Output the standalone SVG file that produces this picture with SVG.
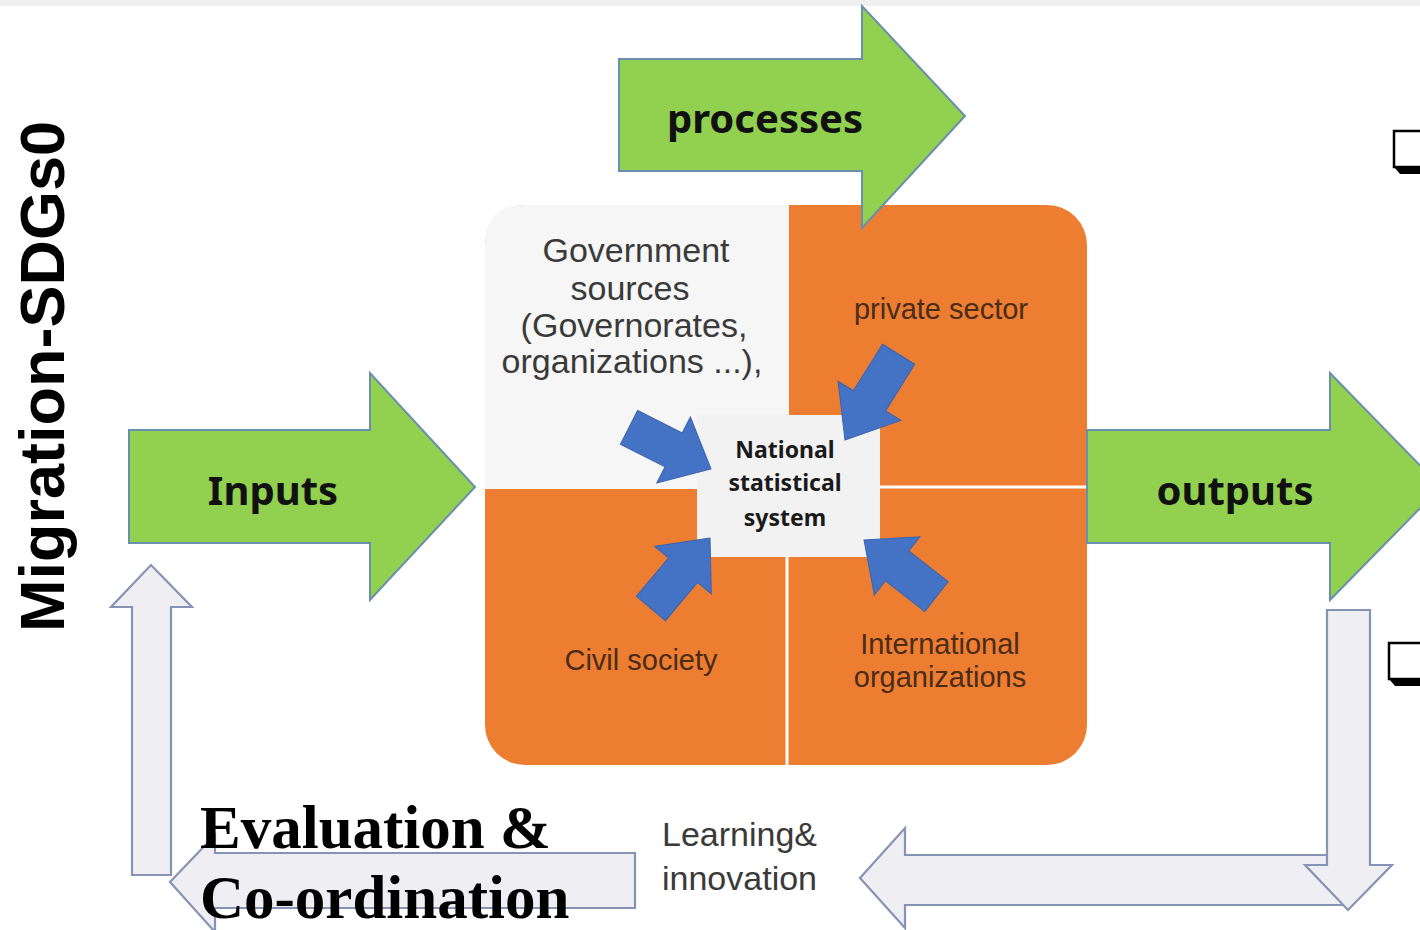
<svg xmlns="http://www.w3.org/2000/svg" width="1420" height="930" viewBox="0 0 1420 930">
<defs>
<style>
.green{fill:#92d050;stroke:#6a8fae;stroke-width:2;stroke-linejoin:miter}
.gray{fill:#efeff3;stroke:#8693b5;stroke-width:2.2;stroke-linejoin:miter}
.blue{fill:#4472c4;stroke:#3b64ad;stroke-width:1}
.lbl{font-family:"Noto Sans","Open Sans",sans-serif;font-weight:bold;font-size:40px;fill:#111;text-anchor:middle}
.quad{font-family:"Liberation Sans",Arial,sans-serif;fill:#3a3a3a;text-anchor:middle}
.oq{font-family:"Liberation Sans",Arial,sans-serif;fill:#4a2c18;text-anchor:middle;font-size:29px}
.nss{font-family:"Noto Sans","Open Sans",sans-serif;font-weight:bold;font-size:23px;fill:#1a1a1a;text-anchor:middle}
.serif{font-family:"Liberation Serif","Times New Roman",serif;font-weight:bold;font-size:61px;fill:#000}
</style>
<polygon id="bluearrow" points="0,0 -42,-37 -42,-19 -92,-19 -92,19 -42,19 -42,37"/>
</defs>
<rect x="0" y="0" width="1420" height="930" fill="#ffffff"/>
<rect x="0" y="0" width="1420" height="6" fill="#f0f0f0"/>

<g id="stakeholders">
<rect x="485" y="205" width="602" height="560" rx="40" ry="40" fill="#ed7d31"/>
<path d="M485 489 L485 245 Q485 205 525 205 L789 205 L789 489 Z" fill="#f6f6f6"/>
<line x1="787" y1="555" x2="787" y2="765" stroke="#ffffff" stroke-width="3"/>
<line x1="879" y1="487" x2="1087" y2="487" stroke="#ffffff" stroke-width="3"/>
<text class="quad" font-size="34"><tspan x="636" y="262">Government</tspan><tspan x="630" y="300">sources</tspan><tspan x="634" y="337">(Governorates,</tspan><tspan x="632" y="373">organizations ...),</tspan></text>
<text class="oq" x="941" y="319">private sector</text>
<text class="oq" x="641" y="670">Civil society</text>
<text class="oq"><tspan x="940" y="654">International</tspan><tspan x="940" y="687">organizations</tspan></text>
</g>

<g id="nss">
<rect x="697" y="415" width="183" height="142" fill="#f2f2f2"/>
<text class="nss"><tspan x="785" y="458">National</tspan><tspan x="785" y="491">statistical</tspan><tspan x="785" y="526">system</tspan></text>
</g>

<g id="connectors">
<use href="#bluearrow" class="blue" transform="translate(711,469) rotate(27)"/>
<use href="#bluearrow" class="blue" transform="translate(845,440) rotate(122) scale(1.1,1)"/>
<use href="#bluearrow" class="blue" transform="translate(710,538) rotate(-50)"/>
<use href="#bluearrow" class="blue" transform="translate(864,540) rotate(-142)"/>
</g>

<g id="processes">
<polygon class="green" points="619,59 862,59 862,6 965,116 862,228 862,171 619,171"/>
<text class="lbl" x="765" y="133">processes</text>
</g>

<g id="inputs">
<polygon class="green" points="129,430 370,430 370,373 475,487 370,600 370,543 129,543"/>
<text class="lbl" x="273" y="505">Inputs</text>
</g>

<g id="outputs">
<polygon class="green" points="1087,430 1330,430 1330,373 1441,487 1330,600 1330,543 1087,543"/>
<text class="lbl" x="1235" y="505">outputs</text>
</g>

<g id="feedback">
<polygon class="gray" points="1350,855 905,855 905,828 860,878 905,928 905,905 1350,905"/>
<polygon class="gray" points="1327,610 1370,610 1370,865 1392,865 1348,910 1305,865 1327,865"/>
<polygon class="gray" points="635,853 635,908 215,908 215,932 170,882 215,835 215,853"/>
<polygon class="gray" points="132,875 132,607 111,607 151,565 192,607 171,607 171,875"/>
</g>

<g id="learning">
<text class="quad" font-size="34" style="text-anchor:start"><tspan x="662" y="846">Learning&amp;</tspan><tspan x="662" y="890">innovation</tspan></text>
</g>

<g id="evaluation">
<text class="serif"><tspan x="200" y="848">Evaluation &amp;</tspan><tspan x="200" y="918">Co-ordination</tspan></text>
</g>

<g id="title">
<text transform="translate(64,632) rotate(-90)" font-family="Liberation Sans, Arial, sans-serif" font-weight="bold" font-size="63" fill="#000">Migration-SDGs0</text>
</g>

<g id="bullets">
<rect x="1394" y="131" width="30" height="36" fill="#fff" stroke="#000" stroke-width="2.5"/>
<polygon points="1394,167 1420,167 1420,174 1400,174" fill="#000"/>
<rect x="1389" y="643" width="35" height="36" fill="#fff" stroke="#000" stroke-width="2.5"/>
<polygon points="1389,679 1420,679 1420,686 1395,686" fill="#000"/>
</g>
</svg>
